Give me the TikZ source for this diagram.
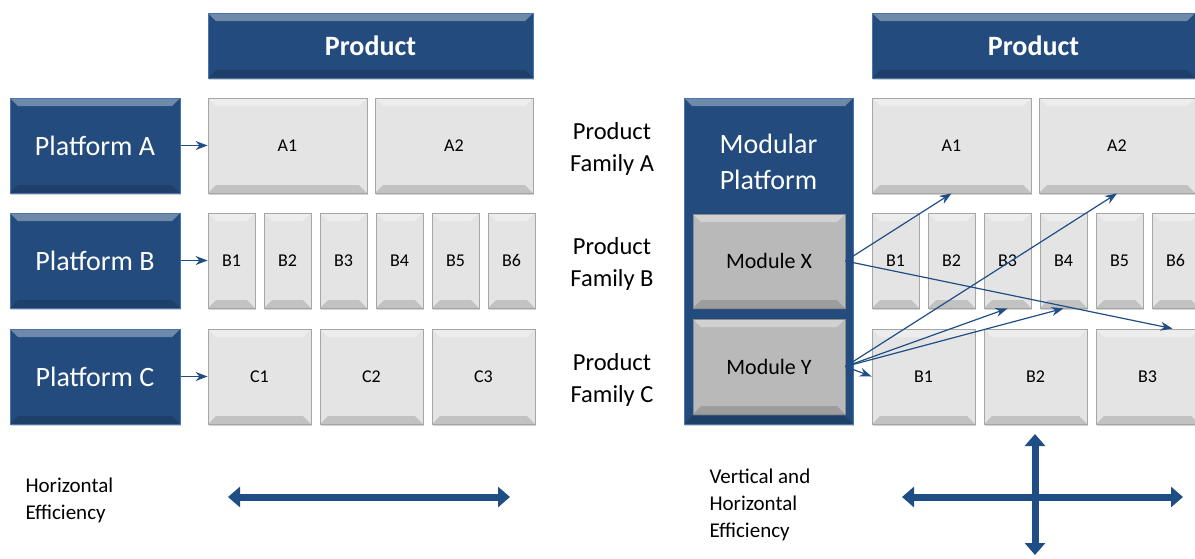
\documentclass[tikz,border=0pt]{standalone}
\usepackage{fontspec}
\setmainfont{Carlito}
\usetikzlibrary{arrows.meta,shadows}
\definecolor{navy}{HTML}{234B7D}
\definecolor{navyedge}{HTML}{4A74AA}
\definecolor{arrowblue}{HTML}{1F4E85}
\definecolor{cellgray}{HTML}{E4E4E4}
\definecolor{celledge}{HTML}{A6A6A6}
\definecolor{modgray}{HTML}{B9B9B9}

\tikzset{
  bevel/.style={path picture={
    \fill[white,opacity=.35] (path picture bounding box.north west) -- (path picture bounding box.north east)
      -- ([shift={(-#1,#1)}]path picture bounding box.north east) -- ([shift={(#1,#1)}]path picture bounding box.north west) -- cycle;
    \fill[black,opacity=.15] (path picture bounding box.south west) -- (path picture bounding box.south east)
      -- ([shift={(-#1,-#1)}]path picture bounding box.south east) -- ([shift={(#1,-#1)}]path picture bounding box.south west) -- cycle;
  }},
  softshadow/.style={drop shadow={shadow xshift=1pt,shadow yshift=-2pt,opacity=.3,fill=black!60}},
  darkbox/.style={draw=navyedge,line width=1pt,fill=navy,text=white,bevel=8,softshadow,
    font=\fontsize{28}{36}\selectfont,align=center},
  cell/.style={draw=celledge,line width=.8pt,fill=cellgray,bevel=8,softshadow,
    font=\fontsize{18}{22}\selectfont},
  modbox/.style={cell,fill=modgray,draw=black!45,font=\fontsize{22}{26}\selectfont},
  famlabel/.style={font=\fontsize{24.5}{32}\selectfont,align=center},
  efflabel/.style={font=\fontsize{21}{27}\selectfont,align=left,anchor=west},
  conn/.style={arrowblue,line width=1.2pt,-{Stealth[length=12pt,width=9pt]}},
  effarrow/.style={arrowblue,line width=7pt,
    {Triangle[width=20pt,length=12pt]}-{Triangle[width=20pt,length=12pt]}},
}

\begin{document}
\begin{tikzpicture}[x=1pt,y=-1pt]
  \useasboundingbox (0,0) rectangle (1195,558);

  % left: one platform per family
  \node[darkbox,minimum width=325pt,minimum height=65pt] (prodl) at (370.5,45.5) {\textbf{Product}};
  \node[darkbox,minimum width=170pt,minimum height=95pt] (plata) at (95,145.5) {Platform A};
  \node[darkbox,minimum width=170pt,minimum height=95pt] (platb) at (95,260.5) {Platform B};
  \node[darkbox,minimum width=170pt,minimum height=95pt] (platc) at (95,376.5) {Platform C};

  \node[cell,minimum width=159pt,minimum height=95pt] (la1) at (287.5,145.5) {A1};
  \node[cell,minimum width=158pt,minimum height=95pt] (la2) at (454,145.5) {A2};
  \foreach \i in {1,...,6}
    \node[cell,minimum width=47pt,minimum height=95pt] (lb\i) at ({175.5+56*\i},260.5) {B\i};
  \foreach \i in {1,2,3}
    \node[cell,minimum width=103pt,minimum height=95pt] (lc\i) at ({147.5+112*\i},376.5) {C\i};

  \draw[conn] (plata) -- (la1);
  \draw[conn] (platb) -- (lb1);
  \draw[conn] (platc) -- (lc1);

  % family labels
  \node[famlabel] (fama) at (612,149) {Product\\Family A};
  \node[famlabel] (famb) at (612,264) {Product\\Family B};
  \node[famlabel] (famc) at (612,380) {Product\\Family C};

  % right: modular platform
  \node[darkbox,minimum width=323pt,minimum height=65pt] (prodr) at (1033.5,45.5) {\textbf{Product}};
  \node[darkbox,minimum width=169pt,minimum height=326pt] (modp) at (768.5,261) {};
  \node[text=white,font=\fontsize{28}{36}\selectfont,align=center] (modtitle) at (768.5,162) {Modular\\Platform};
  \node[modbox,minimum width=152pt,minimum height=94pt] (modx) at (769,261) {Module X};
  \node[modbox,minimum width=152pt,minimum height=95pt] (mody) at (769,366.5) {Module Y};

  \node[cell,minimum width=159pt,minimum height=95pt] (ra1) at (951.5,145.5) {A1};
  \node[cell,minimum width=156pt,minimum height=95pt] (ra2) at (1117,145.5) {A2};
  \foreach \i in {1,...,6}
    \node[cell,minimum width=47pt,minimum height=95pt] (rb\i) at ({839.5+56*\i},260.5) {B\i};
  \foreach \i in {1,2,3}
    \node[cell,minimum width=103pt,minimum height=95pt] (rc\i) at ({811.5+112*\i},376.5) {B\i};

  \draw[conn] (modx.east) -- (ra1.south);
  \draw[conn] (modx.east) -- ([xshift=25pt]rc3.north);
  \draw[conn] (mody.east) -- (ra2.south);
  \draw[conn] (mody.east) -- (rb3.south);
  \draw[conn] (mody.east) -- (rb4.south);
  \draw[conn] (mody.east) -- (rc1.west);

  % efficiency
  \node[efflabel] (effl) at (22,500) {Horizontal\\Efficiency};
  \node[efflabel] (effr) at (706,505) {Vertical and\\Horizontal\\Efficiency};
  \coordinate (hl1) at (228,497);
  \coordinate (hl2) at (510,497);
  \coordinate (hr1) at (902,497);
  \coordinate (hr2) at (1183,497);
  \coordinate (vr1) at (1035,434);
  \coordinate (vr2) at (1035,555);
  \draw[effarrow] (hl1) -- (hl2);
  \draw[effarrow] (hr1) -- (hr2);
  \draw[effarrow] (vr1) -- (vr2);
\end{tikzpicture}
\end{document}
